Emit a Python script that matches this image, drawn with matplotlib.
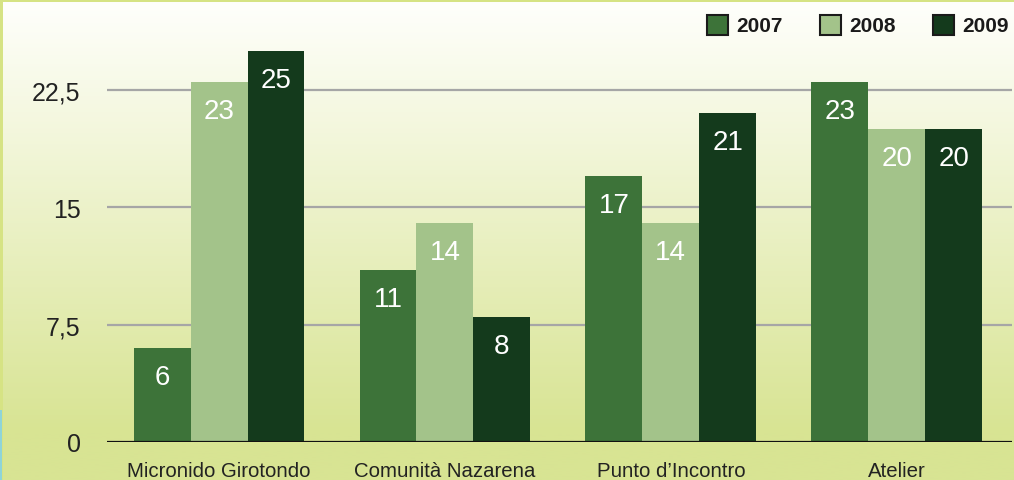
import matplotlib
matplotlib.use("Agg")
import matplotlib.pyplot as plt
import numpy as np
from matplotlib.patches import Rectangle

plt.rcParams['font.family'] = ['Liberation Sans', 'DejaVu Sans']

# data
categories = ["Micronido Girotondo", "Comunità Nazarena", "Punto d\u2019Incontro", "Atelier"]
years = ["2007", "2008", "2009"]
values_2007 = [6, 11, 17, 23]
values_2008 = [23, 14, 14, 20]
values_2009 = [25, 8, 21, 20]
yticks = [0, 7.5, 15, 22.5]
ytick_labels = ["0", "7,5", "15", "22,5"]

colors = ["#3d7339", "#a3c38a", "#143a1c"]

W, H = 1014, 481
fig = plt.figure(figsize=(W / 100, H / 100), dpi=100)

# background gradient
bg = fig.add_axes([0, 0, 1, 1])
top = np.array([1.0, 1.0, 0.99])
bot = np.array([0xd8, 0xe4, 0x93]) / 255
t = np.clip(np.linspace(0, 1, 200) / 0.9, 0, 1)[:, None]
grad = top * (1 - t) + bot * t
bg.imshow(grad[:, None, :], aspect='auto', extent=[0, 1, 0, 1], origin='upper')
bg.set_xlim(0, 1)
bg.set_ylim(0, 1)
bg.axis('off')
# thin borders
bg.add_patch(Rectangle((0, 1 - 3 / H), 1, 3 / H, color="#d6e384", lw=0))
bg.add_patch(Rectangle((0, 0), 3 / W, 1, color="#d6e384", lw=0))
bg.add_patch(Rectangle((0, 0), 2 / W, 70 / H, color="#8fd4d8", lw=0))

ax = fig.add_axes([107 / W, (H - 443) / H, (1012 - 107) / W, 443 / H])
ax.patch.set_alpha(0)
ymax = 443 / 352 * 22.5
ax.set_ylim(0, ymax)
ax.set_xlim(-0.496, 3.51)

x = np.arange(len(categories))
bw = 0.252
series = [values_2007, values_2008, values_2009]
for i, vals in enumerate(series):
    xs = x + (i - 1) * bw
    ax.bar(xs, vals, width=bw, color=colors[i], zorder=3, linewidth=0)
    for xi, v in zip(xs, vals):
        ax.annotate(str(v), (xi, v), xytext=(0, -29), textcoords='offset pixels',
                    ha='center', va='center', color='white', fontsize=20, zorder=4)

for yv in yticks[1:]:
    ax.axhline(yv, color="#a6a6a6", lw=1.6, zorder=1)
ax.axhline(0, color="#111111", lw=1.6, zorder=4)

for s in ax.spines.values():
    s.set_visible(False)
ax.set_yticks(yticks)
ax.set_yticklabels(ytick_labels)
ax.set_xticks(x)
ax.set_xticklabels(categories)
ax.tick_params(axis='y', length=0, pad=19, labelsize=18, labelcolor="#222222")
ax.tick_params(axis='x', length=0, pad=14, labelsize=14.7, labelcolor="#222222")

# legend drawn manually
leg_sq = [707, 820, 933]
for xs0, c, yr in zip(leg_sq, colors, years):
    fig.patches.append(Rectangle((xs0 / W, (H - 36) / H), 21 / W, 20 / H,
                                 transform=fig.transFigure, facecolor=c,
                                 edgecolor="#1a1a1a", lw=1.5, figure=fig))
    fig.text((xs0 + 29) / W, (H - 26) / H, yr, ha='left', va='center',
             fontsize=15, fontweight='bold', color="#1a1a1a")

fig.savefig("out.png", dpi=100)
